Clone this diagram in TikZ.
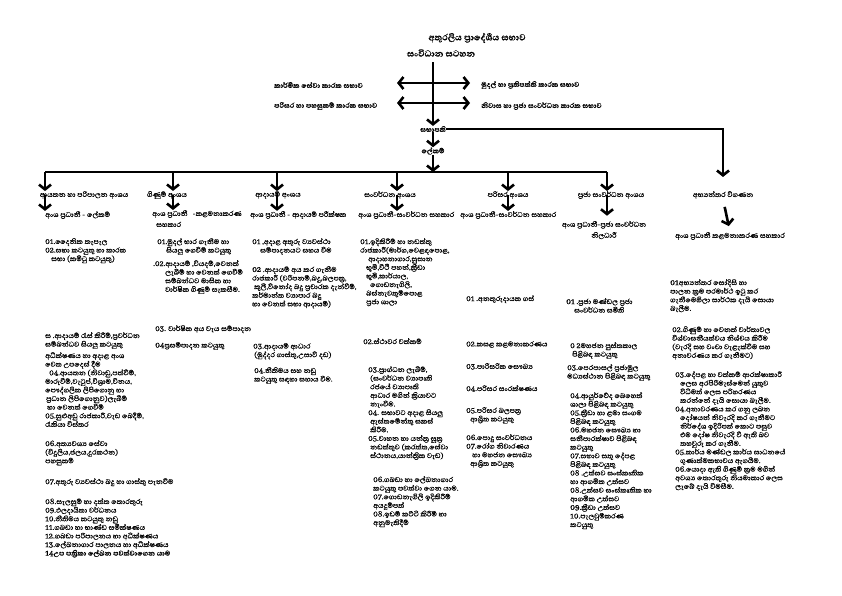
\documentclass[tikz,border=0pt]{standalone}
\usepackage{fontspec}
\newfontfamily\sinhfont[Script=Sinhala,FakeBold=0.4]{Abhaya Libre}
\usetikzlibrary{arrows.meta}

\tikzset{
  arr/.style={line width=2.6pt,-{Straight Barb[length=4.8pt,width=12pt]}},
  darr/.style={line width=2.6pt,{Straight Barb[length=4.8pt,width=12pt]}-{Straight Barb[length=4.8pt,width=12pt]}},
  lbl/.style={inner sep=0pt,font=\sinhfont\fontsize{9}{10}\selectfont},
  blbl/.style={inner sep=0pt,font=\sinhfont\bfseries\fontsize{9}{10}\selectfont},
  ttl/.style={inner sep=0pt,font=\sinhfont\bfseries\fontsize{11.3}{13}\selectfont},
  body/.style={inner sep=0pt,anchor=north west,align=left,font=\sinhfont\fontsize{9}{8.6}\selectfont},
}

\begin{document}
\begin{tikzpicture}[x=1pt,y=-1pt]
		%%%%% START %%%%%
		\useasboundingbox (0,0) rectangle (842,595);
		
		\node[ttl] (title) at (477,38) {අතුරලිය ප්‍රාදේශීය සභාව};
		\node[ttl] (subtitle) at (441,53) {සංවිධාන සටහන};
		
		% committees
		\coordinate (ctop) at (433,62);
		\coordinate (cl1) at (397,83);
		\coordinate (cr1) at (470,83);
		\coordinate (cl2) at (397,103);
		\coordinate (cr2) at (470,103);
		\draw[darr] (cl1) -- (cr1);
		\draw[darr] (cl2) -- (cr2);
		\node[blbl,anchor=west] (techcom) at (274,85) {කාර්මික සේවා කාරක සභාව};
		\node[blbl,anchor=west] (envcom) at (274,106) {පරිසර හා පහසුකම් කාරක සභාව};
		\node[blbl,anchor=west] (fincom) at (481,85) {මුදල් හා ප්‍රතිපත්ති කාරක සභාව};
		\node[blbl,anchor=west] (houscom) at (481,106) {නිවාස හා ප්‍රජා සංවර්ධන කාරක සභාව};
		
		\node[blbl] (chair) at (433,129) {සභාපති};
		\node[blbl] (sec) at (433,151) {ලේකම්};
		\draw[arr] (ctop) -- (chair.north);
		\draw[arr] (chair.south) -- (sec.north);
		
		% divisions
		\coordinate (b1) at (45,172);
		\coordinate (b2) at (173,172);
		\coordinate (b3) at (277,172);
		\coordinate (b4) at (397,172);
		\coordinate (b5) at (508,172);
		\coordinate (b6) at (607,172);
		\draw[line width=2.6pt] (b1) -- (b6);
		\draw[arr] (sec.south) -- (sec.south |- b1);
		
		\node[lbl] (div1) at (84,195) {ආයතන හා පරිපාලන අංශය};
		\node[lbl] (div2) at (167,195) {ගිණුම් අංශය};
		\node[lbl] (div3) at (278,195) {ආදායම් අංශය};
		\node[lbl] (div4) at (390,195) {සංවර්ධන අංශය};
		\node[lbl] (div5) at (508,195) {පරිසර අංශය};
		\node[lbl] (div6) at (611,195) {ප්‍රජා සංවර්ධන අංශය};
		\node[lbl] (div7) at (723,195) {අභ්‍යන්තර විගණන};
		
		\draw[arr] (b1) -- (b1 |- div1.north);
		\draw[arr] (b2) -- (b2 |- div2.north);
		\draw[arr] (b3) -- (b3 |- div3.north);
		\draw[arr] (b4) -- (b4 |- div4.north);
		\draw[arr] (b5) -- (b5 |- div5.north);
		\draw[arr] (b6) -- (b6 |- div6.north);
		\draw[arr,shorten >=14pt] (chair.east) -| (div7.north);
		
		% heads
		\node[lbl,anchor=west] (head1) at (45,215) {අංශ ප්‍රධානී - ලේකම්};
		\node[lbl,anchor=north west,align=left] (head2) at (152,210) {අංශ ප්‍රධානී \ \ -කළමනාකරණ\\[1pt]\hspace*{4pt}සහකාර};
		\node[lbl,anchor=west] (head3) at (250,215) {අංශ ප්‍රධානී - ආදායම් පරීක්ෂක};
		\node[lbl,anchor=west] (head4) at (358,215) {අංශ ප්‍රධානී-සංවර්ධන සහකාර};
		\node[lbl,anchor=west] (head5) at (460,215) {අංශ ප්‍රධානී-සංවර්ධන සහකාර};
		\node[lbl,align=center] (head6) at (604,230) {අංශ ප්‍රධානී-ප්‍රජා සංවර්ධන\\[1pt]නිලධාරී};
		\node[lbl] (head7) at (730,236) {අංශ ප්‍රධානී කළමනාකරණ සහකාර};
		
		\draw[arr] (b1 |- div1.center) -- (b1 |- head1.north);
		\draw[arr] (b2 |- div2.center) -- (b2 |- head2.north);
		\draw[arr] (b3 |- div3.center) -- (b3 |- head3.north);
		\draw[arr] (b4 |- div4.center) -- (b4 |- head4.north);
		\draw[arr] (b5 |- div5.center) -- (b5 |- head5.north);
		\draw[arr,shorten >=5pt] (b6 |- div6.center) -- (b6 |- head6.north);
		\draw[arr,shorten <=8pt,shorten >=6pt] (div7.south) -- (head7.north);
		
		% column 1
		\node[body] (c1a) at (45,238) {01.දෛනික තැපැල\\02.සභා කටයුතු හා කාරක\\\hspace*{6pt}සභා (කමිටු කටයුතු)};
		\node[body] (c1b) at (45,332) {ස .ආදායම් රැස් කිරීම්,ප්‍රවර්ධන\\සම්බන්ධව සියලු කටයුතු};
		\node[body] (c1c) at (45,352) {අධීක්ෂණය හා අදාළ අංශ\\වෙත උපදෙස් දීම\\\hspace*{4pt}04.ආයතන (නිවාඩු,පත්වීම්,\\මාරුවීම්,වැටුප්,විශ්‍රාම,විනය,\\පෞද්ගලික ලිපිගොනු හා\\\hspace*{1pt}ප්‍රධාන ලිපිගොනුව)ලැබීම්\\\hspace*{2pt}හා වෙනත් ගෙවීම්\\05.සුළුඅඩු රාජකාරී,වැඩ බෙදීම්,\\රැකියා විස්තර};
		\node[body] (c1d) at (45,440) {06.අත්‍යවශ්‍ය සේවා\\(විදුලිය,ජලය,දුරකථන)\\පහසුකම්};
		\node[body] (c1e) at (45,478) {07.අතුරු ව්‍යවස්ථා බදු හා ගාස්තු පැනවීම};
		\node[body] (c1f) at (45,498) {08.සැලසුම් හා දත්ත තොරතුරු\\09.ඵලදායිතා වර්ධනය\\10.නීතිමය කටයුතු නඩු\\11.ගබඩා හා භාණ්ඩ සමීක්ෂණය\\12.ගබඩා පරිපාලනය හා අධීක්ෂණය\\13.ලේඛනාගාර පාලනය හා අධීක්ෂණය\\\textbf{14උප පත්‍රිකා ලේඛන පවත්වාගෙන යාම}};
		
		% column 2
		\node[body] (c2a) at (157,238) {01.මුදල් භාර ගැනීම හා\\\hspace*{9pt}සියලු ගෙවීම් කටයුතු};
		\node[body] (c2b) at (153,260) {.02.ආදායම් ,වියදම්,වෙනත්\\\hspace*{12pt}ලැබීම් හා වෙනත් ගෙවීම්\\\hspace*{12pt}සම්බන්ධව මාසික හා\\\hspace*{12pt}වාර්ෂික ගිණුම් සැකසීම.};
		\node[body] (c2c) at (155,325) {03. වාර්ෂික අය වැය සම්පාදන};
		\node[body] (c2d) at (155,342) {\textbf{04}ප්‍රසම්පාදන කටයුතු};
		
		% column 3
		\node[body] (c3a) at (252,238) {01 ,අදාළ අතුරු ව්‍යවස්ථා\\\hspace*{8pt}සම්පාදනයට සහය වීම};
		\node[body] (c3b) at (252,266) {\textbf{02} .ආදායම් අය කර ගැනීම\\රාජකාරී (වරිපනම්,බදු,බලපත්‍ර,\\\hspace*{2pt}කුලී,විනෝද බදු ප්‍රචාරක දැන්වීම්,\\කර්මාන්ත ව්‍යාපාර බදු\\හා වෙනත් සභා ආදායම්)};
		\node[body] (c3c) at (253,343) {03.ආදායම් ආධාර\\\hspace*{1pt}(මුද්දර ගාස්තු,උසාවි දඩ)};
		\node[body] (c3d) at (254,367) {04.නීතිමය සහ නඩු\\කටයුතු සඳහා සහාය වීම.};
		
		% column 4
		\node[body] (c4a) at (360,238) {01.ඉදිකිරීම් හා නඩත්තු\\රාජකාරී(මාර්ග,වෙළඳපොළ,\\\hspace*{8pt}ආදාහනාගාර,සුසාන\\\hspace*{6pt}භූමි,වීථි පහන්,ක්‍රීඩා\\\hspace*{6pt}භූමි,කාර්යාල,\\\hspace*{10pt}ගොඩනැගිලි,\\\hspace*{6pt}බස්නැවතුම්පොළ\\\hspace*{6pt}ප්‍රජා ශාලා};
		\node[body] (c4b) at (363,338) {02.ස්ථාවර වත්කම්};
		\node[body] (c4c) at (368,366) {03.ප්‍රාග්ධන ලැබීම්,\\\hspace*{2pt}(සංවර්ධන ව්‍යාපෘති\\\hspace*{2pt}රජයේ ව්‍යාපෘති\\\hspace*{2pt}ආධාර මගින් ක්‍රියාවට\\\hspace*{2pt}නැංවීම.\\04. සභාවට අදාළ සියලු\\\hspace*{2pt}ඇස්තමේන්තු සකස්\\\hspace*{2pt}කිරීම.\\05.වාහන හා යන්ත්‍ර සූත්‍ර\\\hspace*{2pt}නඩත්තුව (කරත්ත,සේවා\\\hspace*{2pt}ස්ථානය,යාන්ත්‍රික වැඩ)};
		\node[body] (c4d) at (373,476) {06.ගබඩා හා ලේඛනාගාර\\කටයුතු පවත්වා ගෙන යාම.\\07.ගොඩනැගිලි ඉදිකිරීම්\\අයදුම්පත්\\08.ඉඩම් කට්ටි කිරීම් හා\\අනුමැතිදීම්};
		
		% column 5
		\node[body] (c5a) at (466,295) {01 .අනතුරුදායක ගස්};
		\node[body] (c5b) at (466,341) {02.කසළ කළමනාකරණය};
		\node[body] (c5c) at (466,363) {03.පාරිසරික සෞඛ්‍ය};
		\node[body] (c5d) at (466,385) {04.පරිසර සංරක්ෂණය};
		\node[body] (c5e) at (466,407) {05.පරිසර බලපත්‍ර\\\hspace*{4pt}ආශ්‍රිත කටයුතු};
		\node[body] (c5f) at (466,434) {06.පොදු සංවර්ධනය\\07.රෝග නිවාරණය\\\hspace*{6pt}හා මහජන සෞඛ්‍ය\\\hspace*{4pt}ආශ්‍රිත කටයුතු};
		
		% column 6
		\node[body] (c6a) at (566,298) {\textbf{01} .ප්‍රජා මණ්ඩල ප්‍රජා\\\hspace*{8pt}සංවර්ධන සමිති};
		\node[body] (c6b) at (570,342) {0 2මහජන පුස්තකාල\\\hspace*{2pt}පිළිබඳ කටයුතු};
		\node[body] (c6c) at (567,364) {03.පෙරපාසල් ප්‍රජාමූල\\මධ්‍යස්ථාන පිළිබඳ කටයුතු};
		\node[body] (c6d) at (570,392) {04.ආයුර්වේද බෙහෙත්\\ශාලා පිළිබඳ කටයුතු\\05.ක්‍රීඩා හා ළමා සංගම\\පිළිබඳ කටයුතු\\06.මහජන සෞඛ්‍ය හා\\සනීපාරක්ෂාව පිළිබඳ\\කටයුතු\\07.සභාව සතු දේපළ\\පිළිබඳ කටයුතු\\08 .උත්සව සංස්කෘතික\\හා ආගමික උත්සව\\08.උත්සව සංස්කෘතික හා\\ආගමික උත්සව\\\textbf{09}.ක්‍රීඩා උත්සව\\10.පැලවුම්කරණ\\කටයුතු};
		
		% column 7
		\node[body] (c7a) at (670,279) {\textbf{01}අභ්‍යන්තර සෝදිසි හා\\පාලන ක්‍රම පරමාර්ථ ඉටු කර\\ගැනීමෙහිලා සාර්ථක දැයි සොයා\\බැලීම.};
		\node[body] (c7b) at (672,326) {02.ගිණුම් හා වෙනත් වාර්තාවල\\විශ්වාසනීයත්වය නිශ්චය කිරීම\\(වැරදි සහ වංචා වැළැක්වීම සහ\\අනාවරණය කර ගැනීමට)};
		\node[body] (c7c) at (675,371) {03.දේපළ හා වත්කම් ආරක්ෂාකාරී\\\hspace*{5pt}ලෙස අරපිරිමැස්මෙන් යුතුව\\\hspace*{5pt}විධිමත් ලෙස පරිහරණය\\\hspace*{5pt}කරන්නේ දැයි සොයා බැලීම.\\04.අනාවරණය කර ගනු ලබන\\\hspace*{5pt}දෝෂයන් නිවැරදි කර ගැනීමට\\\hspace*{5pt}නිර්දේශ ඉදිරිපත් කොට පසුව\\\hspace*{5pt}එම දෝෂ නිවැරදි වී ඇති බව\\\hspace*{5pt}තහවුරු කර ගැනීම.\\05.කාර්ය මණ්ඩල කාර්ය සාධනයේ\\\hspace*{5pt}ගුණාත්මකභාවය ඇගයීම.\\06.යොදා ඇති ගිණුම් ක්‍රම මගින්\\අවශ්‍ය තොරතුරු නියමාකාර ලෙස\\ලැබේ දැයි විමසීම.};
		
		%%%%% END %%%%%
\end{tikzpicture}
\end{document}
